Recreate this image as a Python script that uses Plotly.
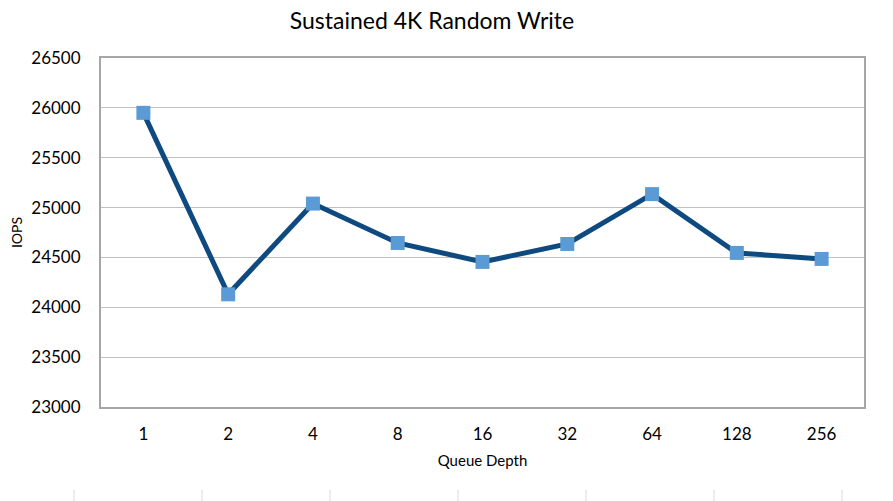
import plotly.graph_objects as go

queue_depth = ["1", "2", "4", "8", "16", "32", "64", "128", "256"]
iops = [25950, 24130, 25040, 24645, 24455, 24635, 25135, 24545, 24485]
y_ticks = [23000, 23500, 24000, 24500, 25000, 25500, 26000, 26500]

FONT = "Lato, 'Open Sans', sans-serif"

# page body has an 8px margin; figure sized so the plot lands where the reference has it
W, H = 885, 493
L, R, T, B = 93, 29, 50, 94
PW, PH = W - L - R, H - T - B

fig = go.Figure()
fig.add_trace(go.Scatter(
    x=queue_depth, y=iops, mode="lines+markers",
    line=dict(color="#0E4A80", width=5),
    marker=dict(symbol="square", size=14, color="#5B9BD5", line=dict(width=0)),
    showlegend=False,
))

fig.update_layout(
    width=W, height=H,
    margin=dict(l=L, r=R, t=T, b=B, autoexpand=False),
    paper_bgcolor="white", plot_bgcolor="white",
    title=dict(text="Sustained 4K Random Write", x=0.479, xanchor="center",
               y=1 - 13 / H, yanchor="middle",
               font=dict(family=FONT, size=23, color="#000000")),
    font=dict(family=FONT, color="#000000"),
)
fig.update_xaxes(
    type="category", range=[-0.5, 8.5], automargin=False,
    showgrid=False, showline=True, linecolor="#A6A6A6", linewidth=2, mirror=True,
    ticks="", tickfont=dict(size=17), ticklabelstandoff=11,
    title=dict(text="Queue Depth", font=dict(size=15), standoff=12),
)
fig.update_yaxes(
    range=[23000, 26500], tickvals=y_ticks, ticktext=[str(v) for v in y_ticks],
    automargin=False,
    showgrid=True, gridcolor="#C0C0C0", gridwidth=1,
    showline=True, linecolor="#A6A6A6", linewidth=2, mirror=True,
    ticks="", tickfont=dict(size=17), ticklabelstandoff=15, zeroline=False,
    title=dict(text="IOPS", font=dict(size=14), standoff=9),
)

# faint cropped frame marks at page bottom edge
for xp in [74, 202, 330, 458, 586, 714, 842]:
    xf = (xp - 8 - L) / PW
    fig.add_shape(type="line", xref="paper", yref="paper",
                  x0=xf, x1=xf,
                  y0=(H - B - 482) / PH, y1=(H - B - 493) / PH,
                  line=dict(color="#D9D9D9", width=1))

fig.write_html("out.html")
